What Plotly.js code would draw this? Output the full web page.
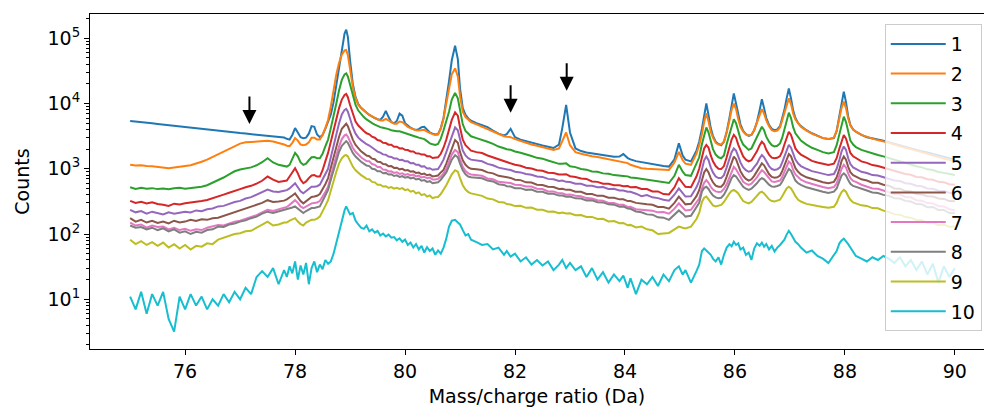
<!DOCTYPE html>
<html><head><meta charset="utf-8">
<script src="https://cdn.plot.ly/plotly-3.0.1.min.js"></script>
<style>html,body{margin:0;padding:0;background:#fff}#chart{width:984px;height:409px}</style>
</head><body><div id="chart"></div>
<script>
// Mass/charge grid (Da)
const mz = [
75.0,75.1,75.2,75.3,75.4,75.5,75.6,75.7,75.8,75.9,76.0,76.1,76.2,76.3,76.4,76.5,76.6,76.7,76.8,76.9,77.0,77.1,77.2,77.3,77.4,77.5,77.6,77.7,77.8,
77.85,77.9,77.95,78.0,78.05,78.1,78.15,78.2,78.25,78.3,78.35,78.4,78.45,78.5,78.55,78.6,78.65,78.7,78.75,78.8,78.85,78.9,
78.93,78.96,
79.0,79.05,79.1,79.15,79.2,79.25,79.3,79.35,79.4,79.45,79.5,79.55,79.6,79.65,79.7,79.75,79.8,79.85,79.9,79.95,80.0,80.05,80.1,80.15,80.2,80.25,80.3,80.35,80.4,80.45,80.5,80.55,80.6,80.65,80.7,80.75,80.8,80.85,
80.91,80.96,81.0,81.05,81.1,81.15,81.2,81.3,
81.4,81.5,81.6,81.7,81.8,81.85,81.92,82.0,82.1,82.2,82.3,82.4,82.5,82.6,82.7,82.8,82.86,82.93,83.0,83.1,83.2,83.3,83.4,83.5,83.6,83.7,83.8,83.9,83.97,84.05,84.1,84.2,84.3,84.4,84.5,84.6,84.7,84.8,
84.9,84.98,85.05,85.1,85.2,85.3,85.35,85.4,85.44,85.48,85.52,85.56,85.6,85.65,85.7,85.75,85.8,85.85,85.9,85.94,85.98,86.02,86.06,86.1,86.15,86.2,86.25,86.3,86.35,86.4,86.45,86.49,86.53,86.57,86.62,86.67,86.72,86.77,86.82,86.86,86.9,86.94,86.98,87.02,87.06,87.1,87.15,87.2,87.3,87.4,87.5,87.6,87.7,87.8,87.85,87.9,87.94,87.98,88.02,88.06,88.1,88.15,88.2,88.3,
88.4,88.5,88.6,88.7,88.8,88.9,89.0,89.1,89.2,89.3,89.4,89.5,89.6,89.7,89.8,89.9,90.0
];

const counts1 = [
5400,5320,5180,5090,4980,4870,4760,4650,4560,4440,4330,4260,4150,4070,3980,3910,3820,3740,3660,3580,3520,3460,3400,3330,3280,3210,3160,3080,3010,
2880,2800,3300,4200,3600,3050,2950,3000,3450,4500,4400,3350,3050,3300,4100,5200,6800,10500,19000,38000,72000,118000,
135000,105000,
46000,20000,12500,9800,8600,7800,7200,6700,6300,6000,5750,5600,6300,7700,6200,5200,5000,5400,7000,6500,5000,4550,4250,4050,3950,4050,4350,4400,3900,3600,3450,3350,3400,4200,6000,11000,22000,46000,
77000,48000,17000,8500,6700,5900,5450,5000,
4700,4350,3850,3450,3250,3400,4100,3050,2800,2650,2480,2380,2270,2170,2080,2350,4200,9500,3600,2050,1870,1780,1720,1660,1610,1570,1530,1540,1680,1460,1390,1310,1260,1220,1180,1140,1100,1080,
1400,2450,1600,1380,1300,1900,2600,4100,6600,10000,6600,4200,3200,2600,2400,2300,2600,3700,6000,9800,14300,10000,6500,4800,3800,3400,3200,3300,3900,5200,8000,11600,8500,6000,4700,4100,3900,4000,4500,5800,8000,12000,17000,12000,7800,6000,5000,4500,3900,3500,3200,2950,2850,2950,3800,6200,10000,15200,10500,6300,4700,4000,3700,3300,
3050,2900,2800,2700,2550,2420,2300,2160,2050,1950,1850,1780,1700,1600,1520,1450,1380
];

const counts2 = [
1150,1120,1135,1100,1095,1075,1045,1020,1050,1065,1100,1130,1195,1280,1380,1520,1680,1850,2050,2250,2430,2540,2590,2620,2650,2680,2620,2500,2360,
2260,2220,2500,2950,2700,2350,2300,2350,2550,3000,3000,2800,2800,3300,4200,5600,9000,16000,28000,42000,56000,65000,
66000,55000,
35000,18000,12000,9500,8500,7700,7200,6700,6300,6000,5700,5500,5500,5800,5500,5100,4900,4900,5300,5200,4700,4400,4200,4000,3900,3850,3900,3950,3700,3500,3400,3300,3350,4100,5900,10000,18000,28000,
34500,26000,13000,7500,6200,5600,5200,4800,
4400,4100,3700,3350,3150,3100,3050,2850,2650,2500,2350,2250,2150,2050,1950,2050,2700,3600,2300,1800,1700,1620,1560,1520,1460,1400,1350,1300,1290,1220,1150,1080,1020,1000,990,980,970,960,
1250,1820,1350,1200,1150,1700,2300,3400,5200,7100,5300,3700,3000,2500,2350,2350,2600,3600,5500,8000,10000,8200,5800,4400,3700,3350,3250,3300,3900,5100,6800,8200,7000,5500,4500,3900,3750,3850,4300,5500,7300,9800,12000,9800,7000,5700,4900,4400,3850,3450,3200,2950,2850,3000,3800,5900,8600,10700,8500,5900,4600,4000,3700,3300,
3050,2900,2750,2650,2500,2350,2250,2100,2000,1900,1800,1700,1620,1530,1450,1370,1290
];

const counts3 = [
520,490,512,495,505,488,500,485,502,512,494,506,520,532,560,612,660,735,820,915,975,1010,1050,1130,1260,1450,1250,1150,1100,
1080,1150,1450,1750,1550,1250,1150,1200,1350,1500,1520,1450,1450,1700,2200,2800,4200,6300,10000,16000,23000,28000,
29000,26000,
19000,13000,9500,7800,6900,6200,5700,5300,5000,4750,4500,4350,4250,4200,4050,3900,3800,3750,3750,3650,3500,3400,3300,3250,3100,3000,2900,2850,2650,2450,2380,2320,2400,2900,3900,5300,7500,11500,
14500,12000,8000,4800,3800,3400,3150,2950,
2790,2590,2410,2190,2060,1990,1960,1840,1760,1640,1570,1470,1430,1340,1280,1190,1190,1210,1090,1060,990,970,910,900,850,840,800,795,775,765,735,725,705,685,655,645,615,605,
780,1150,900,800,780,1200,1500,2400,3400,4300,3600,2600,2000,1650,1500,1450,1600,2400,3400,4800,5750,5000,3700,2900,2350,2100,1950,2050,2500,3000,3800,4400,3900,3100,2600,2300,2200,2250,2450,3000,4000,5600,7250,6000,4300,3500,3000,2700,2350,2100,1950,1800,1720,1800,2300,3400,4900,6300,5200,3500,2700,2350,2150,1950,
1830,1710,1630,1550,1460,1370,1310,1220,1170,1090,1050,980,955,895,865,825,800
];

const counts4 = [
322,300,312,293,306,288,282,270,292,283,296,302,308,322,333,352,372,402,428,462,488,522,548,592,655,760,680,628,642,
660,760,900,1020,850,680,600,640,720,790,800,760,760,950,1300,1750,2600,3900,5700,8500,11500,13500,
14000,12500,
9500,6800,5300,4600,4100,3800,3500,3380,3100,2990,2760,2690,2510,2480,2340,2330,2170,2180,2050,2070,1950,1940,1840,1840,1730,1720,1650,1660,1560,1560,1460,1470,1500,1700,2100,2800,3900,5600,
7300,6500,4300,2800,2300,2050,1900,1800,
1740,1600,1500,1370,1310,1250,1220,1150,1110,1040,1010,950,930,870,860,815,815,825,770,750,710,700,640,630,590,590,560,560,540,545,520,525,490,490,450,450,410,405,
520,720,600,530,520,760,1000,1600,2050,2320,2100,1600,1300,1100,1000,990,1100,1500,2100,2800,3300,3000,2350,1900,1550,1380,1300,1350,1550,1850,2300,2600,2400,1950,1650,1480,1450,1470,1560,1850,2350,3000,3700,3300,2500,2050,1800,1650,1480,1320,1250,1180,1140,1200,1450,2050,2700,3300,2900,2200,1750,1550,1450,1300,
1230,1140,1100,1040,990,920,890,830,810,750,740,690,680,630,620,580,570
];

const counts5 = [
235,215,225,205,220,210,200,215,205,212,220,214,230,224,240,246,265,270,290,310,322,350,368,400,430,480,450,440,460,
470,500,550,600,520,450,420,450,490,530,530,540,570,680,820,1000,1500,2300,3400,5000,6800,8000,
8300,7500,
5900,4300,3450,3000,2750,2550,2380,2270,2080,1970,1830,1770,1660,1640,1540,1520,1440,1440,1360,1370,1300,1300,1220,1230,1150,1150,1080,1090,1010,1020,965,975,990,1150,1380,1800,2400,3300,
4300,3900,2700,1900,1600,1450,1380,1330,
1300,1190,1130,1040,1000,960,955,900,880,830,810,760,750,700,690,650,660,630,625,590,590,550,550,520,525,490,495,465,465,445,445,415,380,395,365,355,335,325,
400,500,420,375,380,520,650,1000,1350,1540,1350,1050,880,760,720,720,800,1050,1400,1800,2050,1900,1550,1250,1050,950,900,930,1060,1200,1450,1620,1500,1280,1100,990,960,980,1050,1250,1550,1950,2320,2100,1650,1380,1200,1100,1000,920,880,830,800,830,1000,1370,1850,2200,1950,1450,1180,1050,990,900,
860,800,790,750,710,660,650,600,590,550,540,500,495,460,455,430,420
];

const counts6 = [
175,155,165,150,160,148,155,145,160,150,155,165,158,168,165,175,178,190,205,215,230,245,260,280,300,330,310,315,325,
340,360,390,420,370,320,295,320,350,370,375,385,410,480,580,720,1050,1550,2200,3100,4100,4700,
4900,4500,
3600,2800,2320,2050,1850,1720,1600,1560,1430,1400,1280,1270,1180,1170,1090,1100,1030,1040,980,1000,945,955,905,915,865,875,825,845,795,815,765,775,790,880,960,1200,1550,2100,
2760,2500,1800,1350,1150,1050,1000,980,
955,880,850,780,760,735,725,680,670,620,615,570,565,530,525,490,495,475,475,445,445,410,410,385,385,360,360,340,340,320,320,300,290,285,280,260,260,245,
300,375,320,285,290,380,470,700,880,990,880,720,620,550,530,530,590,760,1000,1300,1540,1400,1150,920,780,700,660,690,780,900,1080,1210,1130,960,830,750,730,740,790,920,1130,1420,1680,1550,1230,1020,900,820,740,690,660,620,600,630,740,990,1320,1540,1380,1070,890,800,760,690,
660,610,610,570,550,500,495,455,450,410,405,380,375,350,345,320,318
];

const counts7 = [
150,135,140,125,135,128,130,118,125,115,120,112,118,115,125,130,138,135,145,155,160,170,185,195,215,235,225,240,250,
260,280,300,330,300,265,250,265,285,295,300,305,320,370,440,530,780,1150,1600,2200,2850,3250,
3350,3100,
2550,2100,1820,1620,1500,1400,1310,1300,1180,1150,1060,1060,970,965,910,915,865,885,835,855,805,830,790,815,765,785,735,755,715,735,685,685,700,760,850,1000,1300,1650,
1950,1800,1400,1070,920,850,820,800,
780,710,690,630,620,600,605,570,565,535,535,495,490,450,450,420,420,400,405,385,380,355,350,330,325,300,300,280,280,260,262,240,235,230,228,215,218,205,
245,295,255,230,235,300,350,500,610,670,610,530,480,450,440,445,490,580,740,920,1070,980,850,720,630,590,565,590,650,740,860,950,890,800,700,640,630,640,660,750,900,1100,1290,1200,950,820,740,680,620,580,555,525,505,525,600,800,1000,1150,1050,850,720,650,630,570,
540,500,495,465,445,410,405,370,365,330,325,298,295,268,265,240,232
];

const counts8 = [
135,125,128,118,125,115,122,110,118,105,110,100,108,105,115,118,130,128,140,145,155,162,175,185,205,220,210,222,230,
235,245,255,265,245,220,210,225,240,250,250,255,265,320,390,475,680,950,1350,1820,2250,2550,
2650,2500,
2100,1750,1540,1380,1280,1200,1120,1100,1000,985,915,915,855,865,815,825,775,795,750,770,730,750,710,730,685,705,655,670,630,645,600,612,620,680,760,880,1100,1380,
1620,1500,1200,950,820,760,740,725,
715,660,640,580,565,540,535,505,505,475,480,445,445,415,415,388,390,372,375,352,350,328,330,308,305,285,282,262,265,245,244,222,216,200,198,180,178,165,
195,230,205,185,190,250,300,450,510,530,490,430,390,365,355,360,400,480,600,720,800,760,680,600,530,495,475,495,540,600,680,720,690,630,570,535,530,545,565,640,750,880,1000,930,770,660,600,565,520,490,470,445,425,445,500,670,790,850,790,670,590,545,530,490,
465,432,425,398,385,352,350,322,315,288,285,258,260,234,234,210,208
];

const counts9 = [
82,70,78,68,75,66,74,62,70,60,68,58,66,64,72,70,82,88,92,100,103,110,112,125,140,155,135,140,150,
150,160,168,175,155,142,135,150,158,165,165,172,185,220,270,330,470,670,900,1210,1450,1600,
1620,1550,
1300,1080,950,860,800,750,700,690,630,620,570,570,535,540,510,525,495,510,490,505,470,485,445,460,420,435,395,410,375,390,355,365,370,410,475,560,680,820,
950,900,720,560,480,440,420,400,
385,350,340,310,305,288,284,268,270,252,254,236,236,220,222,208,213,206,208,194,195,182,183,170,171,156,158,146,148,136,138,126,130,118,114,100,103,104,
118,130,125,122,130,170,210,310,360,375,340,300,275,265,270,280,310,370,420,460,475,450,420,370,320,305,295,310,340,385,430,445,420,380,340,320,315,325,335,380,440,500,530,500,440,380,335,315,290,275,268,260,252,262,300,380,440,475,445,380,335,305,295,275,
270,250,248,228,218,200,198,182,178,164,162,148,150,137,140,129,130
];

const counts10 = [
11,7,13,6,12,8,13,5,3.2,11,7,12,8,11,7,10,8,12,9,13,10,15,12,22,27,22,30,17,28,
22,32,25,38,20,33,24,36,17,30,38,26,34,29,40,35,38,50,72,110,165,230,
265,240,
200,210,160,140,125,120,135,110,118,105,112,95,102,92,98,88,90,80,86,76,82,68,74,62,70,58,66,52,63,55,60,48,56,50,62,85,130,160,
165,150,140,115,95,100,82,75,
68,70,58,62,48,55,45,50,38,44,34,40,33,38,28,34,40,30,36,28,32,22,30,20,26,18,24,19,23,15,21,12,20,17,22,16,24,19,
28,32,24,28,18,27,34,55,60,56,52,48,42,38,44,34,48,62,70,65,76,68,72,58,62,48,52,40,60,72,66,74,64,70,58,66,54,62,68,75,82,98,112,100,88,76,70,62,52,56,46,42,36,48,55,72,80,85,78,70,62,54,46,42,
38,44,40,46,42,36,44,32,40,28,38,24,35,18,32,22,30
];

const seriesLabels = ['1','2','3','4','5','6','7','8','9','10'];
const seriesCounts = [counts1,counts2,counts3,counts4,counts5,counts6,counts7,counts8,counts9,counts10];

// Arrow markers (m/z of marked peak, counts at arrow tip)
const arrowMz = [77.17, 81.92, 82.94];
const arrowCounts = [4860, 7240, 15700];

const palette = ['#1f77b4','#ff7f0e','#2ca02c','#d62728','#9467bd','#8c564b','#e377c2','#7f7f7f','#bcbd22','#17becf'];

const traces = seriesCounts.map((c, i) => ({
  x: mz, y: c, type: 'scatter', mode: 'lines', name: seriesLabels[i],
  legendgroup: 'g' + i,
  line: {color: palette[i], width: 2}
}));

const FONT = 'DejaVu Sans, sans-serif';
const layout = {
  width: 984, height: 409,
  margin: {l: 90, r: 0, t: 14, b: 60},
  paper_bgcolor: '#fff', plot_bgcolor: '#fff',
  font: {family: FONT, size: 19, color: '#000'},
  showlegend: true,
  xaxis: {
    range: [74.27, 90.53], tick0: 76, dtick: 2,
    showline: true, mirror: true, linecolor: '#000', linewidth: 1,
    ticks: 'outside', ticklen: 5, tickcolor: '#000', tickwidth: 1,
    showgrid: false, zeroline: false,
    tickfont: {size: 19},
    title: {text: 'Mass/charge ratio (Da)', font: {size: 19}, standoff: 8}
  },
  yaxis: {
    type: 'log', range: [0.238, 5.372],
    tickmode: 'array',
    tickvals: [10, 100, 1000, 10000, 100000],
    ticktext: ['10<sup>1</sup>','10<sup>2</sup>','10<sup>3</sup>','10<sup>4</sup>','10<sup>5</sup>'],
    showline: true, linecolor: '#000', linewidth: 1,
    ticks: 'outside', ticklen: 5, tickcolor: '#000', tickwidth: 1,
    minor: {ticks: 'outside', ticklen: 3, tickcolor: '#000', dtick: 'D1', showgrid: false},
    showgrid: false, zeroline: false,
    tickfont: {size: 19},
    title: {text: 'Counts', font: {size: 19}, standoff: 12}
  },
  legend: {
    x: 0.889, y: 0.97, xanchor: 'left', yanchor: 'top',
    bgcolor: 'rgba(255,255,255,0.8)', bordercolor: '#cccccc', borderwidth: 1,
    font: {size: 19}, tracegroupgap: 2, itemwidth: 55
  },
  annotations: arrowMz.map((m, i) => ({
    x: m, y: Math.log10(arrowCounts[i]), xref: 'x', yref: 'y',
    text: '', showarrow: true, arrowhead: 2, arrowsize: 1.4, arrowwidth: 2,
    arrowcolor: '#000', ax: 0, ay: -29, standoff: 0
  }))
};

Plotly.newPlot('chart', traces, layout, {staticPlot: true, displayModeBar: false});
</script>
</body></html>
